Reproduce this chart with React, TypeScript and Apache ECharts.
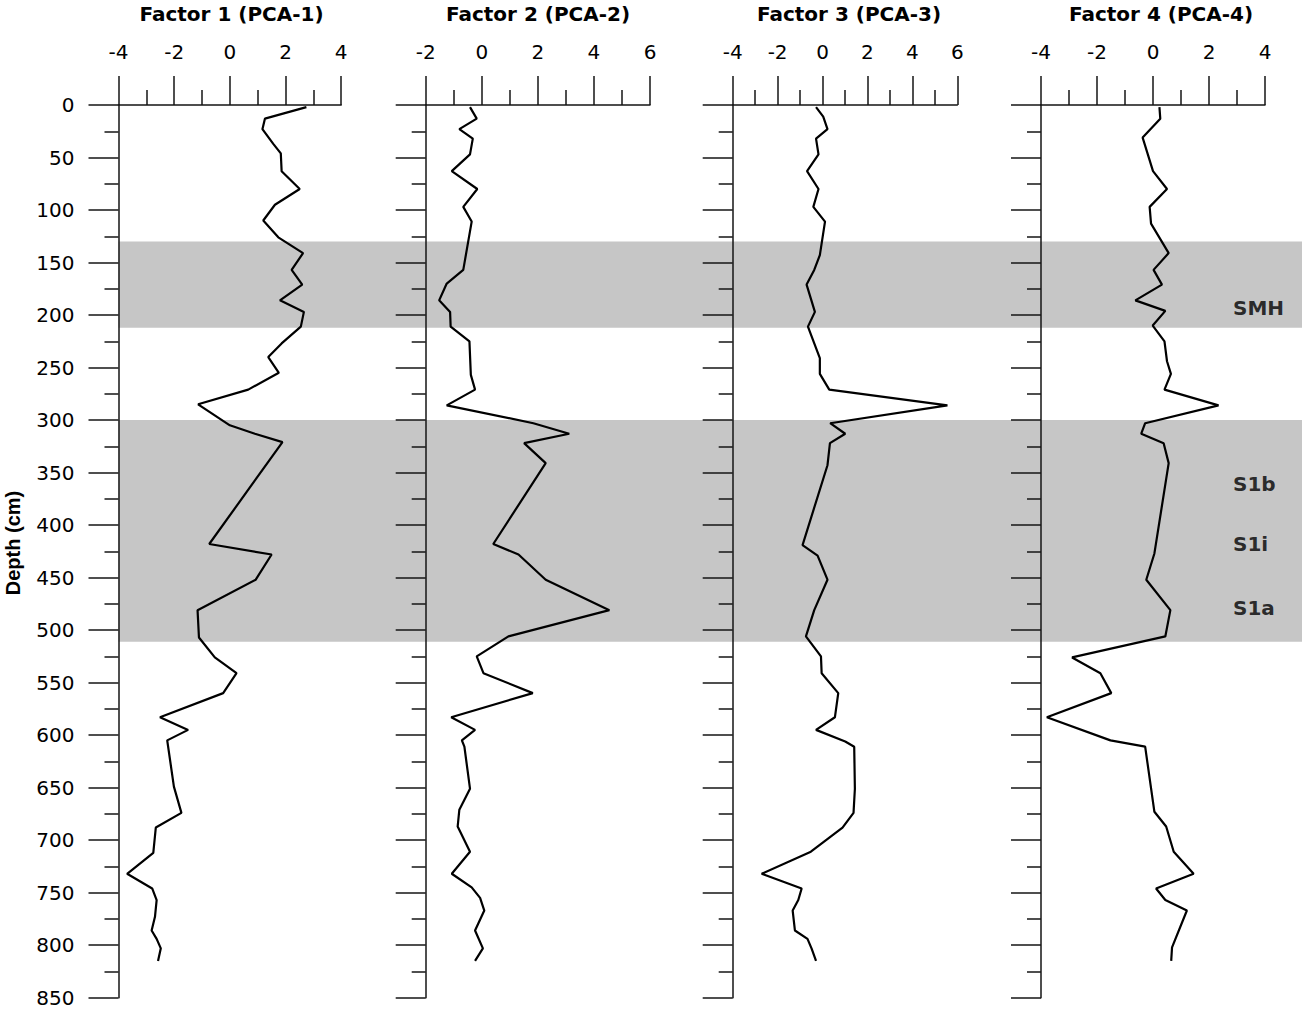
import React, { useEffect, useRef } from "react";
import * as echarts from "echarts";

// Sample depths (cm) and factor scores for each PCA factor
const f1Depth = [2, 13, 23, 37, 46, 63, 80, 95, 110, 126, 141, 157, 171, 186, 197, 211, 227, 240, 255, 271, 285, 305, 313, 321, 418, 428, 452, 481, 507, 526, 541, 560, 583, 595, 605, 649, 674, 688, 712, 732, 746, 757, 773, 786, 794, 803, 815];
const f1Value = [2.75, 1.26, 1.17, 1.56, 1.83, 1.86, 2.51, 1.62, 1.2, 1.74, 2.63, 2.22, 2.6, 1.8, 2.66, 2.55, 1.86, 1.38, 1.76, 0.66, -1.14, 0.0, 0.9, 1.89, -0.74, 1.5, 0.93, -1.16, -1.11, -0.54, 0.24, -0.24, -2.51, -1.5, -2.25, -2.01, -1.74, -2.66, -2.75, -3.69, -2.79, -2.63, -2.69, -2.81, -2.63, -2.48, -2.58];

const f2Depth = [2, 13, 23, 32, 47, 63, 80, 97, 111, 157, 170, 186, 197, 211, 225, 257, 271, 286, 303, 313, 322, 341, 418, 428, 452, 481, 506, 525, 541, 560, 583, 595, 605, 611, 651, 671, 687, 711, 732, 745, 755, 767, 786, 803, 815];
const f2Value = [-0.42, -0.18, -0.8, -0.32, -0.42, -1.07, -0.16, -0.66, -0.36, -0.66, -1.25, -1.52, -1.13, -1.11, -0.44, -0.39, -0.24, -1.25, 1.84, 3.12, 1.51, 2.28, 0.41, 1.31, 2.28, 4.55, 0.95, -0.18, 0.06, 1.82, -1.09, -0.24, -0.71, -0.62, -0.42, -0.8, -0.86, -0.42, -1.07, -0.36, -0.06, 0.09, -0.24, 0.04, -0.24];

const f3Depth = [2, 11, 23, 32, 47, 63, 80, 97, 111, 143, 157, 171, 197, 211, 241, 256, 271, 286, 303, 313, 322, 343, 419, 429, 452, 481, 506, 525, 541, 560, 583, 595, 606, 611, 651, 674, 688, 711, 732, 746, 757, 767, 786, 794, 803, 815];
const f3Value = [-0.29, 0.03, 0.22, -0.29, -0.18, -0.69, -0.18, -0.41, 0.11, -0.12, -0.37, -0.71, -0.34, -0.65, -0.12, -0.12, 0.3, 5.56, 0.34, 1.01, 0.33, 0.22, -0.89, -0.22, 0.22, -0.37, -0.74, -0.07, -0.04, 0.7, 0.55, -0.29, 1.01, 1.41, 1.44, 1.38, 0.89, -0.52, -2.71, -0.93, -1.08, -1.33, -1.23, -0.67, -0.49, -0.29];

const f4Depth = [2, 13, 31, 63, 80, 97, 113, 141, 157, 171, 186, 196, 210, 225, 244, 256, 271, 286, 303, 313, 322, 341, 427, 452, 481, 506, 526, 541, 560, 583, 605, 611, 673, 687, 711, 732, 746, 757, 767, 802, 815];
const f4Value = [0.23, 0.26, -0.37, 0.0, 0.5, -0.12, -0.07, 0.56, 0.02, 0.32, -0.63, 0.44, -0.01, 0.41, 0.5, 0.64, 0.41, 2.34, -0.28, -0.42, 0.38, 0.56, 0.05, -0.24, 0.62, 0.44, -2.89, -1.88, -1.49, -3.79, -1.52, -0.28, 0.05, 0.47, 0.74, 1.45, 0.11, 0.44, 1.21, 0.68, 0.65];

const factorTitles = ["Factor 1 (PCA-1)", "Factor 2 (PCA-2)", "Factor 3 (PCA-3)", "Factor 4 (PCA-4)"];
const factorMin = [-4, -2, -4, -4];
const factorMax = [4, 6, 6, 4];

const depthMin = 0;
const depthMax = 850;
const depthStep = 50;

// Shaded intervals (cm) and their names
const bandStart = [130, 300];
const bandEnd = [212, 511];
const bandNames = ["SMH", "S1b", "S1i", "S1a"];
const bandNameDepth = [193, 361, 418, 479];

// Layout
const W = 1302;
const H = 1012;
const PLOT_TOP = 105;
const PLOT_HEIGHT = 892.7;
const PANEL_LEFT = [118.5, 425.7, 732.7, 1041];
const PANEL_WIDTH = [222.7, 224.3, 224.6, 224];
const TITLE_X = [231.5, 538, 849, 1161];
const BAND_LABEL_X = 0.9417;

const AXIS_COLOR = "#141414";
const LABEL_FONT = "'DejaVu Sans', 'Liberation Sans', Arial, sans-serif";

export default function App() {
  const ref = useRef<HTMLDivElement>(null);

  useEffect(() => {
    if (!ref.current) return;
    const chart = echarts.init(ref.current, undefined, { renderer: "svg" });

    const depths = [f1Depth, f2Depth, f3Depth, f4Depth];
    const values = [f1Value, f2Value, f3Value, f4Value];

    const grids: any[] = PANEL_LEFT.map((left, i) => ({
      left,
      top: PLOT_TOP,
      width: PANEL_WIDTH[i],
      height: PLOT_HEIGHT,
      containLabel: false,
      outerBoundsMode: "none",
    }));
    // Background grid that carries the shaded intervals across all panels
    grids.push({
      left: PANEL_LEFT[0],
      top: PLOT_TOP,
      width: W - PANEL_LEFT[0],
      height: PLOT_HEIGHT,
      containLabel: false,
      outerBoundsMode: "none",
    });

    const xAxes: any[] = PANEL_LEFT.map((_, i) => ({
      type: "value",
      gridIndex: i,
      position: "top",
      min: factorMin[i],
      max: factorMax[i],
      interval: 2,
      z: 5,
      axisLine: { show: true, onZero: false, lineStyle: { color: AXIS_COLOR, width: 1.5 } },
      axisTick: { show: true, inside: false, length: 29, lineStyle: { color: AXIS_COLOR, width: 1.5 } },
      minorTick: { show: true, splitNumber: 2, length: 15, lineStyle: { color: AXIS_COLOR, width: 1.5 } },
      axisLabel: { show: true, margin: 43, color: "#000", fontSize: 20, fontFamily: LABEL_FONT },
      splitLine: { show: false },
      minorSplitLine: { show: false },
    }));
    xAxes.push({ type: "value", gridIndex: 4, min: 0, max: 1, show: false });

    const yAxes: any[] = PANEL_LEFT.map((_, i) => ({
      type: "value",
      gridIndex: i,
      position: "left",
      inverse: true,
      min: depthMin,
      max: depthMax,
      interval: depthStep,
      z: 5,
      axisLine: { show: true, onZero: false, lineStyle: { color: AXIS_COLOR, width: 1.5 } },
      axisTick: { show: true, inside: false, length: 30, lineStyle: { color: AXIS_COLOR, width: 1.5 } },
      minorTick: { show: true, splitNumber: 2, length: 14, lineStyle: { color: AXIS_COLOR, width: 1.5 } },
      axisLabel: { show: i === 0, margin: 44, color: "#000", fontSize: 20, fontFamily: LABEL_FONT },
      splitLine: { show: false },
      minorSplitLine: { show: false },
    }));
    yAxes.push({ type: "value", gridIndex: 4, inverse: true, min: depthMin, max: depthMax, show: false });

    const lineSeries = depths.map((d, i) => ({
      type: "line",
      xAxisIndex: i,
      yAxisIndex: i,
      data: d.map((depth, k) => [values[i][k], depth]),
      symbol: "none",
      z: 6,
      silent: true,
      lineStyle: { color: "#000", width: 2.2 },
    }));

    const bandSeries = {
      type: "scatter",
      xAxisIndex: 4,
      yAxisIndex: 4,
      z: 1,
      silent: true,
      symbolSize: 0,
      data: bandNames.map((name, k) => ({ name, value: [BAND_LABEL_X, bandNameDepth[k]] })),
      label: {
        show: true,
        position: "right",
        distance: 0,
        formatter: "{b}",
        color: "#000",
        fontSize: 20,
        fontWeight: "bold",
        fontFamily: LABEL_FONT,
      },
      markArea: {
        silent: true,
        itemStyle: { color: "#c6c6c6" },
        label: { show: false },
        data: bandStart.map((s, k) => [{ yAxis: s }, { yAxis: bandEnd[k] }]),
      },
    };

    const graphic: any[] = factorTitles.map((t, i) => ({
      type: "text",
      x: TITLE_X[i],
      y: 14,
      z: 10,
      style: {
        text: t,
        fill: "#000",
        font: `bold 20px ${LABEL_FONT}`,
        align: "center",
        verticalAlign: "middle",
        textAlign: "center",
        textVerticalAlign: "middle",
      },
    }));
    graphic.push({
      type: "text",
      x: 13,
      y: 543,
      rotation: Math.PI / 2,
      z: 10,
      style: {
        text: "Depth (cm)",
        fill: "#000",
        font: "bold 20px 'Liberation Sans', Arial, sans-serif",
        align: "center",
        verticalAlign: "middle",
        textAlign: "center",
        textVerticalAlign: "middle",
      },
    });

    chart.setOption({
      animation: false,
      backgroundColor: "#ffffff",
      grid: grids,
      xAxis: xAxes,
      yAxis: yAxes,
      series: [bandSeries, ...lineSeries],
      graphic,
    });

    return () => chart.dispose();
  }, []);

  return (
    <div
      ref={ref}
      style={{ position: "absolute", left: 0, top: 0, width: W, height: H, background: "#fff" }}
    />
  );
}
